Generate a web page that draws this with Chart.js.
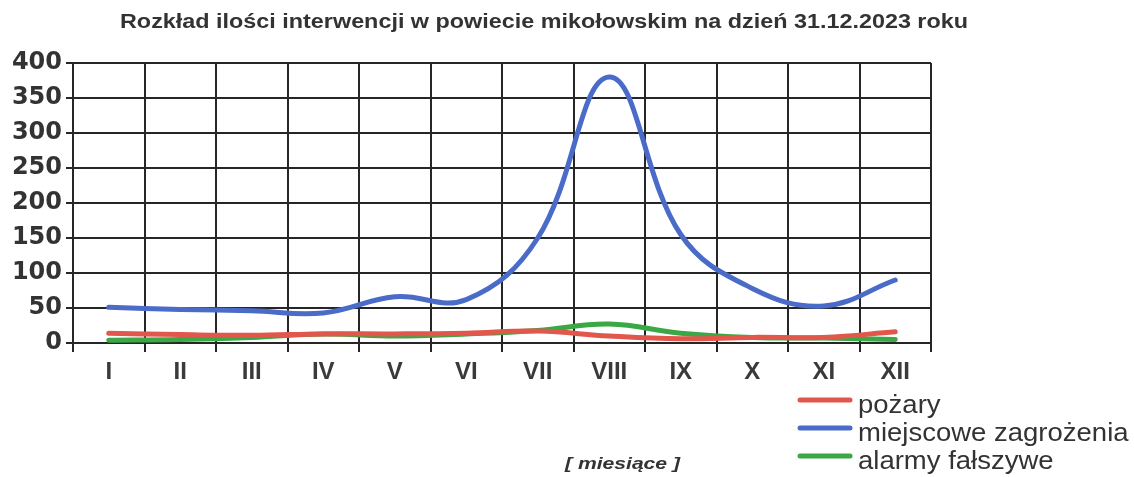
<!DOCTYPE html>
<html><head><meta charset="utf-8">
<script src="https://cdn.jsdelivr.net/npm/chart.js@4/dist/chart.umd.min.js"></script>
<style>html,body{margin:0;padding:0;background:#fff}#wrap{width:1134px;height:477px}</style>
</head><body><div id="wrap"><canvas id="c" width="1134" height="477"></canvas></div>
<script>
const titleText = "Rozkład ilości interwencji w powiecie mikołowskim na dzień 31.12.2023 roku";
const xAxisTitle = "[ miesiące ]";
const months = ["I","II","III","IV","V","VI","VII","VIII","IX","X","XI","XII"];
const seriesNames = ["pożary","miejscowe zagrożenia","alarmy fałszywe"];
const pozary = [14,12,11,13,13,14,17,10,6,8,8,16];
const miejscowe = [51,48,46,43,66,62,150,380,155,78,53,90];
const alarmy = [4,5,8,13,10,13,18,27,14,8,7,5];
const yTicks = [0,50,100,150,200,250,300,350,400];
const colors = ["#e2574c","#4a6cc8","#3aa845"];

function stretchText(ctx, text, x, y, font, targetW, align){
  ctx.font = font;
  const w = ctx.measureText(text).width;
  const k = targetW / w;
  ctx.save();
  ctx.translate(x, y);
  ctx.scale(k, 1);
  ctx.textAlign = align || 'left';
  ctx.fillText(text, 0, 0);
  ctx.restore();
}

const overlay = {
  id:'overlay',
  afterDraw(chart){
    const ctx = chart.ctx;
    ctx.save();
    ctx.fillStyle = '#333';
    ctx.textBaseline = 'alphabetic';
    stretchText(ctx, titleText, 120, 28, 'bold 20px "Liberation Sans", Arial, sans-serif', 848, 'left');
    stretchText(ctx, xAxisTitle, 565, 469, 'italic bold 17px "Liberation Sans", Arial, sans-serif', 115, 'left');
    const ys = [400, 428, 456];
    const labelW = [105, 270, 198];
    chart.data.datasets.forEach((ds,i)=>{
      ctx.strokeStyle = ds.borderColor; ctx.lineWidth = 5; ctx.lineCap = 'round';
      ctx.beginPath(); ctx.moveTo(800, ys[i]); ctx.lineTo(850, ys[i]); ctx.stroke();
      ctx.fillStyle = '#333';
      ctx.font = '25px "Liberation Sans", Arial, sans-serif';
      ctx.save();
      ctx.translate(858, ys[i]+13);
      ctx.scale(1.1, 1);
      ctx.textAlign = 'left';
      ctx.fillText(ds.label, 0, 0);
      ctx.restore();
    });
    ctx.restore();
  }
};

new Chart(document.getElementById('c'), {
  type:'line',
  data:{
    labels: months,
    datasets:[
      {label:seriesNames[0], data:pozary, borderColor:colors[0]},
      {label:seriesNames[1], data:miejscowe, borderColor:colors[1]},
      {label:seriesNames[2], data:alarmy, borderColor:colors[2]}
    ].map(d=>Object.assign(d,{borderWidth:5, pointRadius:0, tension:0.4, fill:false, borderCapStyle:'round'}))
  },
  options:{
    responsive:false, animation:false,
    layout:{padding:{top:63, right:203, left:0, bottom:0}},
    plugins:{legend:{display:false}, title:{display:false}, tooltip:{enabled:false}},
    scales:{
      x:{
        offset:true,
        grid:{offset:true, color:'#262626', lineWidth:2, tickLength:9, drawTicks:true},
        border:{color:'#262626', width:2},
        ticks:{color:'#3a3a3a', font:{size:24, weight:'bold', family:'"Liberation Sans", Arial'}, padding:6, maxRotation:0},
        afterFit(s){ s.height = 134; }
      },
      y:{
        min:0, max:400,
        afterBuildTicks(s){ s.ticks = yTicks.map(v=>({value:v})); },
        grid:{color:'#262626', lineWidth:2, tickLength:7},
        border:{color:'#262626', width:2},
        ticks:{color:'#333', font:{size:24, weight:'bold', family:'"DejaVu Sans", "Liberation Sans", Arial'}, padding:4},
        afterFit(s){ s.width = 73; }
      }
    }
  },
  plugins:[overlay]
});
</script></body></html>
